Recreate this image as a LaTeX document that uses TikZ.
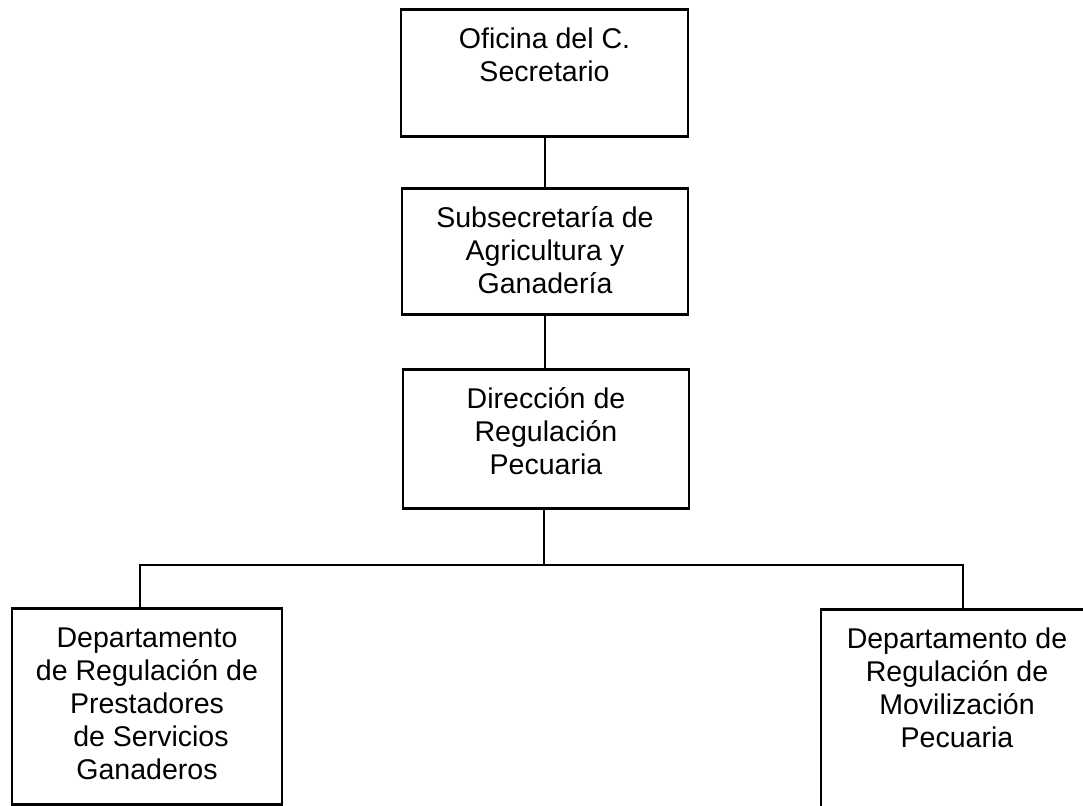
\documentclass[tikz,border=0pt]{standalone}
\usepackage{fontspec}
\setmainfont{Liberation Sans}
\usepackage{tikz}
\usetikzlibrary{positioning}

\newcommand{\boxtxt}[2]{\parbox[t][#1][t]{180pt}{\centering\strut #2}}

\tikzset{
  unidad/.style={draw, line width=2pt, anchor=north, inner xsep=0pt, inner ysep=12pt,
    font=\fontsize{21.4}{24.75}\selectfont},
  liga/.style={line width=1.5pt}
}

\begin{document}
\begin{tikzpicture}[x=0.75pt,y=-0.75pt]
 \useasboundingbox (0,0) rectangle (1083,806);

 \node[unidad, minimum width=215.25pt] (ofi) at (544.5,8)
   {\boxtxt{71.25pt}{Oficina del C.\\Secretario}};
 \node[unidad, minimum width=214.5pt] (sub) at (545,187)
   {\boxtxt{70.5pt}{Subsecretaría de\\Agricultura y\\Ganadería}};
 \node[unidad, minimum width=214.5pt] (dir) at (546,368)
   {\boxtxt{80.25pt}{Dirección de\\Regulación\\Pecuaria}};

 \node[unidad, minimum width=202.5pt] (prest) at (147,607)
   {\boxtxt{123pt}{Departamento\\de Regulación de\\Prestadores\\\ de Servicios\\Ganaderos}};
 \node[unidad, minimum width=204pt] (movil) at (957,608)
   {\boxtxt{129pt}{Departamento de\\Regulación de\\Movilización\\Pecuaria}};

 %%%%%%%%%%%%%%%%%%%%%%%%%%%%%%%%%%%

 \coordinate (bus) at (544,565);
 \draw[liga] (sub.north |- ofi.south) -- (sub.north);
 \draw[liga] (sub.south) -- (sub.south |- dir.north);
 \draw[liga] (bus |- dir.south) -- (bus);
 \draw[liga] ([xshift=-5.25pt]prest.north) |- (bus) -| ([xshift=4.5pt]movil.north);

\end{tikzpicture}
\end{document}
